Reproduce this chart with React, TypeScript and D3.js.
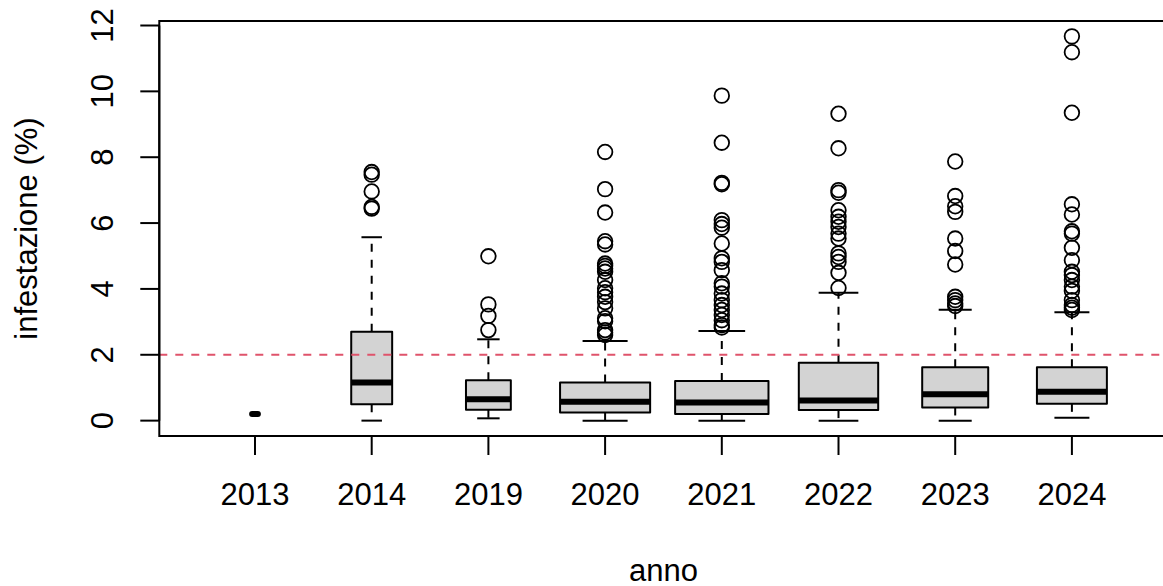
import React from "react";
import * as d3 from "d3";

// Survey years and per-year sample sizes (box widths follow sqrt(n))
const years = ["2013", "2014", "2019", "2020", "2021", "2022", "2023", "2024"];
const sampleSizes = [1, 50, 60, 242, 260, 188, 130, 146];

// Five-number summaries (infestation %)
const lowerWhisker = [0.2, 0.0, 0.07, 0.0, 0.0, 0.0, 0.0, 0.09];
const q1 = [0.2, 0.5, 0.33, 0.25, 0.2, 0.32, 0.4, 0.51];
const median = [0.2, 1.16, 0.65, 0.57, 0.55, 0.61, 0.8, 0.88];
const q3 = [0.2, 2.7, 1.23, 1.16, 1.2, 1.76, 1.62, 1.62];
const upperWhisker = [0.2, 5.57, 2.47, 2.42, 2.72, 3.88, 3.37, 3.29];

// Values beyond the whiskers
const outliers: number[][] = [
  [],
  [7.55, 7.47, 6.96, 6.49, 6.44],
  [4.99, 3.53, 3.18, 2.75],
  [8.16, 7.03, 6.32, 5.45, 5.35, 4.77, 4.7, 4.62, 4.52, 4.27, 4.02, 3.9, 3.76, 3.6, 3.41, 3.11, 3.02, 2.75, 2.68, 2.6],
  [9.87, 8.44, 7.22, 7.18, 6.09, 5.97, 5.86, 5.38, 4.93, 4.82, 4.57, 4.17, 4.07, 3.86, 3.66, 3.51, 3.36, 3.21, 3.05, 2.9, 2.83],
  [9.32, 8.27, 7.0, 6.92, 6.39, 6.19, 6.04, 5.88, 5.68, 5.53, 5.08, 4.97, 4.82, 4.49, 4.03],
  [7.87, 6.82, 6.51, 6.34, 5.53, 5.15, 4.74, 3.76, 3.66, 3.56, 3.48],
  [11.67, 11.19, 9.35, 6.57, 6.26, 5.75, 5.68, 5.25, 4.87, 4.52, 4.42, 4.27, 4.07, 3.94, 3.66, 3.51, 3.43, 3.36],
];

const yTicks = [0, 2, 4, 6, 8, 10, 12];
const threshold = 2;

const W = 1163;
const H = 586;
const plot = { left: 159.3, right: 1167.6, top: 21, bottom: 436 };
const FONT = "'Liberation Sans', Arial, Helvetica, sans-serif";
const FS = 31;
const LW = 2;

export default function App() {
  const n = years.length;
  // x range [0.5, n+0.5] widened by 4% on each side
  const xr = n;
  const x = d3
    .scaleLinear()
    .domain([0.5 - 0.04 * xr, n + 0.5 + 0.04 * xr])
    .range([plot.left, plot.right]);

  const allVals = [...lowerWhisker, ...upperWhisker, ...outliers.flat()];
  const [ymin, ymax] = d3.extent(allVals) as [number, number];
  const yr = ymax - ymin;
  const y = d3
    .scaleLinear()
    .domain([ymin - 0.04 * yr, ymax + 0.04 * yr])
    .range([plot.bottom, plot.top]);

  const maxSqrt = d3.max(sampleSizes.map((s) => Math.sqrt(s))) as number;
  const unit = x(1) - x(0);

  return (
    <svg
      width={W}
      height={H}
      style={{ position: "absolute", left: 0, top: 0, background: "#fff" }}
      fontFamily={FONT}
    >
      <defs>
        <clipPath id="plotClip">
          <rect x={plot.left} y={plot.top} width={plot.right - plot.left} height={plot.bottom - plot.top} />
        </clipPath>
      </defs>

      {years.map((yr_, i) => {
        const cx = x(i + 1);
        const bw = ((0.8 * Math.sqrt(sampleSizes[i])) / maxSqrt) * unit;
        const sw = bw / 2;
        return (
          <g key={yr_}>
            {/* whiskers */}
            <line x1={cx} x2={cx} y1={y(q3[i])} y2={y(upperWhisker[i])} stroke="#000" strokeWidth={LW} strokeDasharray="8,8" />
            <line x1={cx} x2={cx} y1={y(q1[i])} y2={y(lowerWhisker[i])} stroke="#000" strokeWidth={LW} strokeDasharray="8,8" />
            {/* staples */}
            <line x1={cx - sw / 2} x2={cx + sw / 2} y1={y(upperWhisker[i])} y2={y(upperWhisker[i])} stroke="#000" strokeWidth={LW} />
            <line x1={cx - sw / 2} x2={cx + sw / 2} y1={y(lowerWhisker[i])} y2={y(lowerWhisker[i])} stroke="#000" strokeWidth={LW} />
            {/* box */}
            <rect
              x={cx - bw / 2}
              y={y(q3[i])}
              width={bw}
              height={Math.max(0, y(q1[i]) - y(q3[i]))}
              fill="#D3D3D3"
              stroke="#000"
              strokeWidth={LW}
              strokeLinejoin="round"
            />
            {/* median */}
            <line
              x1={cx - bw / 2}
              x2={cx + bw / 2}
              y1={y(median[i])}
              y2={y(median[i])}
              stroke="#000"
              strokeWidth={6}
              strokeLinecap={i === 0 ? "round" : "butt"}
            />
            {/* outliers */}
            {outliers[i].map((v, k) => (
              <circle key={k} cx={cx} cy={y(v)} r={7.3} fill="none" stroke="#000" strokeWidth={1.8} />
            ))}
          </g>
        );
      })}

      {/* reference threshold */}
      <line
        x1={plot.left}
        x2={plot.right}
        y1={y(threshold)}
        y2={y(threshold)}
        stroke="#DF536B"
        strokeWidth={LW}
        strokeDasharray="8,8"
        clipPath="url(#plotClip)"
      />

      {/* plot frame */}
      <rect
        x={plot.left}
        y={plot.top}
        width={plot.right - plot.left}
        height={plot.bottom - plot.top}
        fill="none"
        stroke="#000"
        strokeWidth={LW}
      />

      {/* y axis */}
      <line x1={plot.left} x2={plot.left} y1={y(yTicks[0])} y2={y(yTicks[yTicks.length - 1])} stroke="#000" strokeWidth={LW} />
      {yTicks.map((t) => (
        <g key={t}>
          <line x1={plot.left - 19} x2={plot.left} y1={y(t)} y2={y(t)} stroke="#000" strokeWidth={LW} />
          <text transform={`translate(${113},${y(t)}) rotate(-90)`} textAnchor="middle" fontSize={FS} fill="#000">
            {t}
          </text>
        </g>
      ))}

      {/* x axis */}
      <line x1={x(1)} x2={x(n)} y1={plot.bottom} y2={plot.bottom} stroke="#000" strokeWidth={LW} />
      {years.map((yr_, i) => (
        <g key={yr_}>
          <line x1={x(i + 1)} x2={x(i + 1)} y1={plot.bottom} y2={plot.bottom + 19} stroke="#000" strokeWidth={LW} />
          <text x={x(i + 1)} y={505} textAnchor="middle" fontSize={FS} fill="#000">
            {yr_}
          </text>
        </g>
      ))}

      {/* axis titles */}
      <text x={(plot.left + plot.right) / 2} y={581} textAnchor="middle" fontSize={FS} fill="#000">
        anno
      </text>
      <text
        transform={`translate(${37},${(plot.top + plot.bottom) / 2}) rotate(-90)`}
        textAnchor="middle"
        fontSize={FS}
        fill="#000"
      >
        infestazione (%)
      </text>
    </svg>
  );
}
